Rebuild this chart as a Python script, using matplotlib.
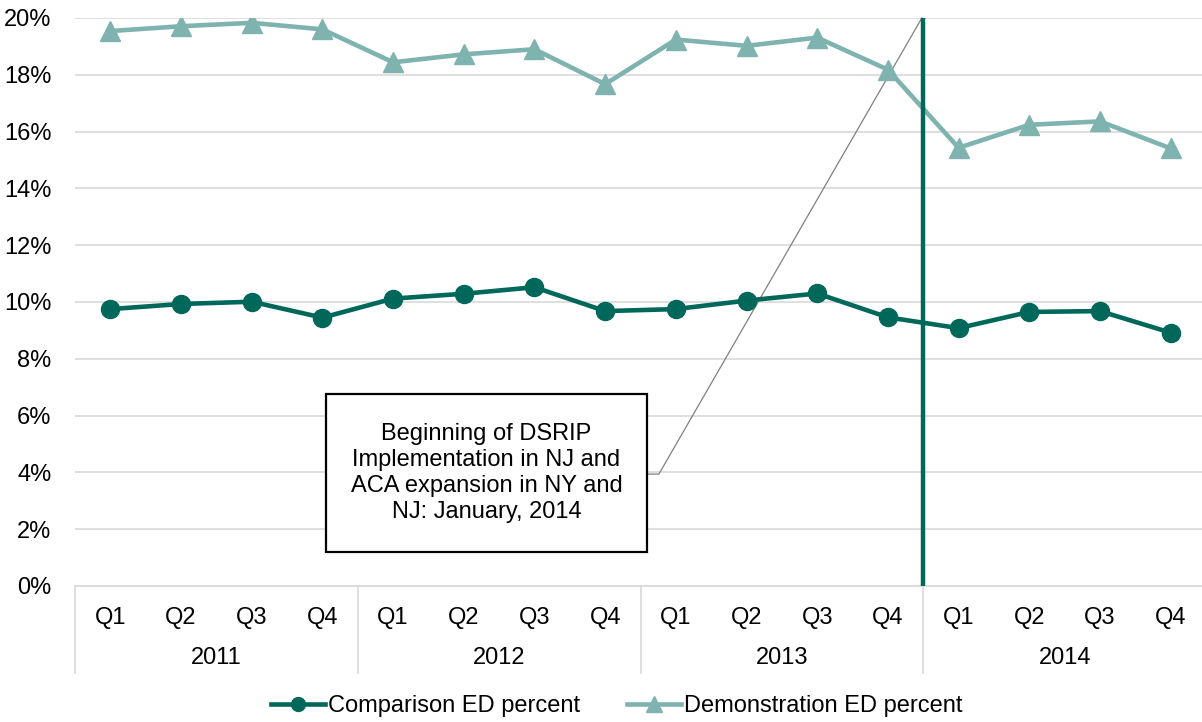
import matplotlib
matplotlib.use("Agg")
import matplotlib.pyplot as plt
from matplotlib.patches import Rectangle
from matplotlib.lines import Line2D
import matplotlib.transforms as mtransforms

plt.rcParams['font.family'] = ['Liberation Sans', 'DejaVu Sans']
plt.rcParams['font.size'] = 17

# --- Data ---
quarters = ['Q1', 'Q2', 'Q3', 'Q4'] * 4
years = ['2011', '2012', '2013', '2014']
comparison = [9.75, 9.93, 10.01, 9.45, 10.12, 10.29, 10.52, 9.68,
              9.75, 10.05, 10.30, 9.46, 9.08, 9.65, 9.68, 8.92]
demonstration = [19.54, 19.71, 19.83, 19.60, 18.44, 18.72, 18.90, 17.67,
                 19.24, 19.02, 19.31, 18.18, 15.43, 16.24, 16.36, 15.41]
yticks = [0, 2, 4, 6, 8, 10, 12, 14, 16, 18, 20]

note = ("Beginning of DSRIP\nImplementation in NJ and\n"
        "ACA expansion in NY and\nNJ: January, 2014")

dark = '#00685B'
light = '#7FB3AF'
grid = '#D9D9D9'

# --- Figure ---
W, H = 1202, 722
fig = plt.figure(figsize=(W / 100, H / 100), dpi=100)
ax = fig.add_axes([75 / W, 1 - 586 / H, 1131 / W, (586 - 18) / H])

x = list(range(len(quarters)))
ax.plot(x, comparison, color=dark, lw=3.3, marker='o', ms=13,
        label='Comparison ED percent', zorder=3)
ax.plot(x, demonstration, color=light, lw=3.3, marker='^', ms=14,
        label='Demonstration ED percent', zorder=3)

ax.set_xlim(-0.5, len(quarters) - 0.5)
ax.set_ylim(0, 20)
ax.set_yticks(yticks)
ax.set_yticklabels([f'{v}%' for v in yticks])
ax.yaxis.grid(True, color=grid, lw=1.2)
ax.set_axisbelow(True)
for s in ['left', 'right', 'top']:
    ax.spines[s].set_visible(False)
ax.spines['bottom'].set_color(grid)
ax.spines['bottom'].set_linewidth(1.2)
ax.tick_params(axis='y', length=0, pad=17)
ax.tick_params(axis='x', length=0, pad=15)
ax.set_xticks(x)
ax.set_xticklabels(quarters)

# year labels and separators below the axis
trans = mtransforms.blended_transform_factory(ax.transData, ax.transAxes)
px = 1 / (586 - 18)
for i, yr in enumerate(years):
    ax.text(i * 4 + 1.5, -72 * px, yr, transform=trans, ha='center', va='center')
for b in range(len(years)):
    ax.plot([b * 4 - 0.5] * 2, [0, -87 * px], transform=trans, color=grid,
            lw=1.2, clip_on=False)

# vertical marker for January 2014
ax.axvline(11.5, color=dark, lw=3.2, zorder=4)

# annotation box with leader line
box_x0, box_x1, box_y0, box_y1 = 3.05, 7.59, 1.2, 6.76
ax.add_patch(Rectangle((box_x0, box_y0), box_x1 - box_x0, box_y1 - box_y0,
                       facecolor='white', edgecolor='black', lw=1.6, zorder=5))
ax.text((box_x0 + box_x1) / 2, 3.98, note, ha='center', va='center',
        linespacing=1.22, zorder=6)
ax.plot([box_x1, 7.76, 11.48], [3.94, 3.94, 20], color='#808080', lw=0.9,
        zorder=2, clip_on=False)

# legend
handles = [Line2D([], [], color=dark, lw=3.3, marker='o', ms=10),
           Line2D([], [], color=light, lw=3.3, marker='^', ms=11)]
fig.legend(handles, ['Comparison ED percent', 'Demonstration ED percent'],
           loc='center', bbox_to_anchor=(0.513, 1 - 706 / H), ncol=2,
           frameon=False, handlelength=2.3, handletextpad=0.1,
           columnspacing=2.0, fontsize=17)

fig.savefig('out.png', dpi=100)
